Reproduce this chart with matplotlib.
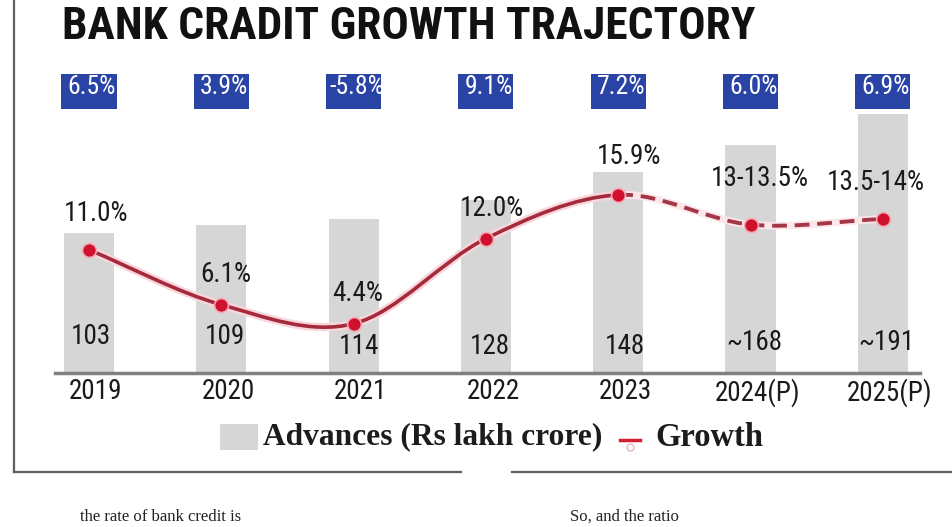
import numpy as np
import matplotlib
matplotlib.use('Agg')
import matplotlib.pyplot as plt
from matplotlib import font_manager as fm
from matplotlib.path import Path
from matplotlib.patches import PathPatch, Rectangle
from matplotlib.lines import Line2D
import matplotlib.transforms as mtransforms

# ---------------- data ----------------
years = ['2019', '2020', '2021', '2022', '2023', '2024(P)', '2025(P)']
advances = [103, 109, 114, 128, 148, 168, 191]
advance_labels = ['103', '109', '114', '128', '148', '~168', '~191']
growth = [11.0, 6.1, 4.4, 12.0, 15.9, 13.25, 13.75]
growth_labels = ['11.0%', '6.1%', '4.4%', '12.0%', '15.9%', '13-13.5%', '13.5-14%']
top_labels = ['6.5%', '3.9%', '-5.8%', '9.1%', '7.2%', '6.0%', '6.9%']
n_actual = 5  # 2019-2023 actual, rest projected

# ---------------- fonts ----------------
names = {f.name for f in fm.fontManager.ttflist}
def pick(*cands):
    for c in cands:
        if c in names:
            return c
    return 'DejaVu Sans'
cond = pick('Roboto Condensed', 'Liberation Sans Narrow', 'DejaVu Sans Condensed',
            'Open Sans Condensed', 'Roboto', 'DejaVu Sans')
serif = pick('Liberation Serif', 'DejaVu Serif')

W, H = 952, 527
fig = plt.figure(figsize=(W / 100, H / 100), dpi=100)
fig.patch.set_facecolor('white')
def fx(x): return x / W
def fy(y): return 1 - y / H

ax_l, ax_r, ax_t, ax_b = 55, 920, 70, 373
ax = fig.add_axes([fx(ax_l), fy(ax_b), (ax_r - ax_l) / W, (ax_b - ax_t) / H])
x = np.arange(len(years))
x0, dx = 89, 132.3
ax.set_xlim((ax_l - x0) / dx, (ax_r - x0) / dx)
ax.set_ylim(0, (ax_b - ax_t) / 1.355)

ax.bar(x, advances, width=0.378, color='#d6d6d6', zorder=1)
for s in ['top', 'left', 'right']:
    ax.spines[s].set_visible(False)
ax.spines['bottom'].set_color('#808080')
ax.spines['bottom'].set_linewidth(2.5)
ax.set_yticks([])
ax.set_xticks(x, years, fontsize=19.5, family=cond, color='#1a1a1a')
ax.tick_params(axis='x', length=0, pad=3.5)
off = mtransforms.ScaledTranslation(7 / 100, 0, fig.dpi_scale_trans)
for lab in ax.get_xticklabels():
    lab.set_transform(lab.get_transform() + off)

# bar value labels
bar_off = [(2, 36), (4, 36), (5, 26), (4, 26), (7, 27), (4, 30), (4, 30)]
for i, (lbl, (ox, oy)) in enumerate(zip(advance_labels, bar_off)):
    ax.annotate(lbl, xy=(i, 0), xytext=(ox, oy), textcoords='offset pixels',
                ha='center', va='center', fontsize=19.5, family=cond,
                color='#1a1a1a', zorder=3)

# top blue boxes
bt = mtransforms.blended_transform_factory(ax.transData, ax.transAxes)
b0 = (ax_b - 109) / (ax_b - ax_t)
b1 = (ax_b - 74) / (ax_b - ax_t)
tyc = (ax_b - 87.5) / (ax_b - ax_t)
for i, lbl in enumerate(top_labels):
    ax.add_patch(Rectangle((i - 0.208, b0), 0.416, b1 - b0, transform=bt,
                           facecolor='#2a44a6', edgecolor='none', clip_on=False, zorder=2))
    ax.annotate(lbl, xy=(i, tyc), xycoords=bt, xytext=(3, 0), textcoords='offset pixels',
                ha='center', va='center', fontsize=18.5, family=cond,
                color='white', zorder=3)

# growth line
ax2 = ax.twinx()
ax2.set_ylim(0, (ax_b - ax_t) / 11.2)
ax2.axis('off')

pts = np.column_stack([x, growth]).astype(float)
n = len(pts)
tang = np.zeros_like(pts)
for k in range(n):
    if k == 0:
        tang[k] = pts[1] - pts[0]
    elif k == n - 1:
        tang[k] = pts[-1] - pts[-2]
    else:
        tang[k] = (pts[k + 1] - pts[k - 1]) / 2

def curve(i0, i1):
    verts = [pts[i0]]
    codes = [Path.MOVETO]
    for k in range(i0, i1):
        verts += [pts[k] + tang[k] / 3, pts[k + 1] - tang[k + 1] / 3, pts[k + 1]]
        codes += [Path.CURVE4] * 3
    return Path(verts, codes)

solid = curve(0, n_actual - 1)
dash = curve(n_actual - 1, n - 1)
ax2.add_patch(PathPatch(solid, fill=False, lw=6.0, edgecolor='#f9d6db', zorder=3, capstyle='round'))
ax2.add_patch(PathPatch(solid, fill=False, lw=2.6, edgecolor='#a42a3c', zorder=4, capstyle='round'))
ax2.add_patch(PathPatch(dash, fill=False, lw=5.5, edgecolor='#fce6e9', zorder=3))
ax2.add_patch(PathPatch(dash, fill=False, lw=2.8, edgecolor='#a33647', zorder=4,
                        linestyle=(0, (3.8, 2.0))))
ax2.plot(x, growth, 'o', ms=10, mfc='#d0112d', mec='#f3aab3', mew=1.2, zorder=5)

g_off = [(7, 36), (5, 30), (4, 30), (6, 30), (11, 38), (9, 46), (-7, 36)]
for i, (lbl, (ox, oy)) in enumerate(zip(growth_labels, g_off)):
    ax2.annotate(lbl, xy=(i, growth[i]), xytext=(ox, oy), textcoords='offset pixels',
                 ha='center', va='center', fontsize=19.5, family=cond,
                 color='#1a1a1a', zorder=6)

# title
title = fig.text(fx(62), fy(39), 'BANK CRADIT GROWTH TRAJECTORY', ha='left', va='baseline',
                 fontsize=40, weight='bold', family=cond, color='#111111')

# frame
fig.add_artist(Line2D([fx(14), fx(14)], [fy(0), fy(472)], transform=fig.transFigure,
                      color='#5e5e5e', lw=1.6))
fig.add_artist(Line2D([fx(14), fx(461)], [fy(472), fy(472)], transform=fig.transFigure,
                      color='#5e5e5e', lw=1.6))
fig.add_artist(Line2D([fx(512), fx(952)], [fy(472), fy(472)], transform=fig.transFigure,
                      color='#5e5e5e', lw=1.6))

# legend
fig.add_artist(Rectangle((fx(220), fy(450)), 38 / W, 26 / H, transform=fig.transFigure,
                         facecolor='#d6d6d6', edgecolor='none'))
leg1 = fig.text(fx(263), fy(437), 'Advances (Rs lakh crore)', ha='left', va='center',
                fontsize=24, weight='bold', family=serif, color='#1c1c1c')
fig.add_artist(Line2D([fx(620), fx(640)], [fy(440), fy(440)], transform=fig.transFigure,
                      color='#d21f30', lw=2.5))
fig.add_artist(Line2D([fx(630)], [fy(447)], transform=fig.transFigure, marker='o', ms=5,
                      mfc='none', mec='#e8b8bd', mew=1, linestyle='none'))
leg2 = fig.text(fx(655), fy(437), 'Growth', ha='left', va='center',
                fontsize=24, weight='bold', family=serif, color='#1c1c1c')

# body text at the bottom edge
fig.text(fx(80), fy(509), 'the rate of bank credit is', ha='left', va='top',
         fontsize=12, family=serif, color='#222222')
fig.text(fx(570), fy(509), 'So, and the ratio', ha='left', va='top',
         fontsize=12, family=serif, color='#222222')

# fit widths of title and legend texts
fig.canvas.draw()
r = fig.canvas.get_renderer()
for t, target in [(title, 693), (leg1, 340), (leg2, 108)]:
    w = t.get_window_extent(r).width
    t.set_fontsize(t.get_fontsize() * target / w)

fig.savefig('out.png', dpi=100, facecolor='white')
